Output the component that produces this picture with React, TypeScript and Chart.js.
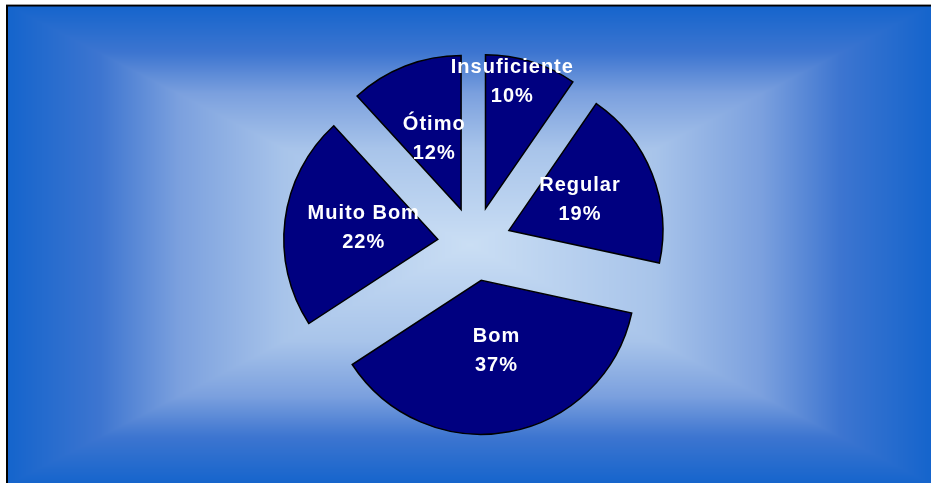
import React, { useEffect, useRef } from 'react';
import { Chart, registerables } from 'chart.js';

Chart.register(...registerables);

const categories = ['Insuficiente', 'Regular', 'Bom', 'Muito Bom', 'Ótimo'];
const shares = [9.6, 18.8, 37.4, 22.4, 11.8];

// where each label sits inside its slice: r = fraction of radius, t = fraction of the sweep
const labelPlacement = [
  { r: 0.84, t: 0.34 },
  { r: 0.5, t: 0.47 },
  { r: 0.47, t: 0.49 },
  { r: 0.49, t: 0.52 },
  { r: 0.49, t: 0.5 },
];

// edge (0) -> centre (1) of the rectangular "from centre" fill
const fillStops: [number, number[]][] = [
  [0, [20, 100, 204]],
  [0.2, [61, 117, 208]],
  [0.37, [123, 160, 222]],
  [0.6, [168, 196, 234]],
  [1, [202, 222, 244]],
];

const colourAt = (t: number) => {
  for (let k = 1; k < fillStops.length; k++) {
    const [o1, c1] = fillStops[k];
    const [o0, c0] = fillStops[k - 1];
    if (t <= o1) {
      const f = (t - o0) / (o1 - o0);
      return [0, 1, 2].map((j) => c0[j] + (c1[j] - c0[j]) * f);
    }
  }
  return fillStops[fillStops.length - 1][1];
};

const backgroundPlugin = {
  id: 'frameBackground',
  beforeDraw(chart: any) {
    const { ctx, width, height } = chart;
    const w = chart.canvas.width;
    const h = chart.canvas.height;
    const ratio = w / width;
    const left = 7;
    const top = 5;
    const right = 933;
    const bottom = 485;
    const cx = (left + right) / 2;
    const cy = (top + bottom) / 2;
    const img = ctx.createImageData(w, h);
    for (let y = 0; y < h; y++) {
      const py = (y + 0.5) / ratio;
      for (let x = 0; x < w; x++) {
        const px = (x + 0.5) / ratio;
        const i = (y * w + x) * 4;
        let c = [255, 255, 255];
        if (px >= left && py >= top) {
          const d = Math.max(Math.abs(px - cx) / (cx - left), Math.abs(py - cy) / (cy - top));
          c = colourAt(Math.min(Math.max(1 - d, 0), 1));
        }
        img.data[i] = c[0];
        img.data[i + 1] = c[1];
        img.data[i + 2] = c[2];
        img.data[i + 3] = 255;
      }
    }
    ctx.putImageData(img, 0, 0);
    ctx.save();
    ctx.fillStyle = '#9a9a9a';
    ctx.fillRect(left - 1, top - 1, width, 1);
    ctx.fillStyle = '#000000';
    ctx.fillRect(left - 1, top, width, 1.5);
    ctx.fillRect(left - 1, top, 2, height);
    ctx.restore();
  },
};

const explodePlugin = {
  id: 'explode',
  afterDatasetUpdate(chart: any, args: any, opts: any) {
    args.meta.data.forEach((arc: any) => {
      const mid = (arc.startAngle + arc.endAngle) / 2;
      arc.x += Math.cos(mid) * opts.distance;
      arc.y += Math.sin(mid) * opts.distance;
    });
  },
};

const sliceLabelPlugin = {
  id: 'sliceLabels',
  afterDatasetsDraw(chart: any) {
    const { ctx } = chart;
    const meta = chart.getDatasetMeta(0);
    const total = shares.reduce((a, b) => a + b, 0);
    ctx.save();
    ctx.fillStyle = '#ffffff';
    ctx.font = 'bold 20px "Liberation Sans", Arial, sans-serif';
    ctx.letterSpacing = '1px';
    ctx.textAlign = 'center';
    ctx.textBaseline = 'middle';
    meta.data.forEach((arc: any, i: number) => {
      const place = labelPlacement[i];
      const a = arc.startAngle + (arc.endAngle - arc.startAngle) * place.t;
      const r = arc.outerRadius * place.r;
      const x = arc.x + Math.cos(a) * r;
      const y = arc.y + Math.sin(a) * r;
      ctx.fillText(categories[i], x + 0.5, y - 14.5);
      ctx.fillText(Math.round((shares[i] / total) * 100) + '%', x + 0.5, y + 14.5);
    });
    ctx.restore();
  },
};

const ExplodedPie: React.FC = () => {
  const chartRef = useRef<HTMLCanvasElement | null>(null);
  const chartInstance = useRef<Chart | null>(null);

  useEffect(() => {
    const chartCanvas = chartRef.current?.getContext('2d');

    if (chartCanvas) {
      if (chartInstance.current) {
        chartInstance.current.destroy();
      }

      chartInstance.current = new Chart(chartCanvas, {
        type: 'pie',
        data: {
          labels: categories,
          datasets: [
            {
              data: shares,
              backgroundColor: '#000080',
              borderColor: '#000000',
              borderWidth: 1.5,
              borderJoinStyle: 'miter',
            },
          ],
        },
        options: {
          responsive: false,
          animation: false,
          events: [],
          radius: 154,
          layout: {
            padding: { top: 89, bottom: 84, left: 100, right: 82 },
          },
          plugins: {
            legend: { display: false },
            tooltip: { enabled: false },
            explode: { distance: 37 },
          } as any,
        },
        plugins: [backgroundPlugin, explodePlugin, sliceLabelPlugin],
      });
    }

    return () => {
      if (chartInstance.current) {
        chartInstance.current.destroy();
      }
    };
  }, []);

  return <canvas ref={chartRef} width={931} height={483} style={{ display: 'block' }} />;
};

const App: React.FC = () => (
  <div style={{ position: 'fixed', left: 0, top: 0, width: 931, height: 483 }}>
    <ExplodedPie />
  </div>
);

export default App;
